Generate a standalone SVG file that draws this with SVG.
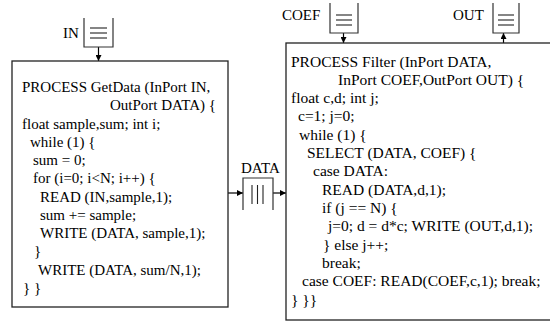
<svg xmlns="http://www.w3.org/2000/svg" width="550" height="324" viewBox="0 0 550 324">
<defs>
<marker id="ah" viewBox="0 0 10 10" refX="10" refY="5" markerWidth="6" markerHeight="6" markerUnits="userSpaceOnUse" orient="auto">
<path d="M0,0 L10,5 L0,10 z" fill="#000"/>
</marker>
</defs>
<style>
.box{fill:#fff;stroke:#222;stroke-width:1.3}
.ch{fill:none;stroke:#333;stroke-width:1.2}
.bar{stroke:#222;stroke-width:1.1}
.con{stroke:#000;stroke-width:1.2;fill:none}
</style>
<rect width="550" height="324" fill="#fff"/>
<g font-family="'Liberation Serif', 'Times New Roman', serif" font-size="15" fill="#000">
<g id="connectors">
<line class="con" x1="98.5" y1="47" x2="98.5" y2="61" marker-end="url(#ah)"/>
<line class="con" x1="228" y1="193" x2="243" y2="193" marker-end="url(#ah)"/>
<line class="con" x1="273" y1="193" x2="286" y2="193" marker-end="url(#ah)"/>
<line class="con" x1="343.5" y1="33" x2="343.5" y2="43" marker-end="url(#ah)"/>
<line class="con" x1="503.5" y1="43" x2="503.5" y2="33" marker-end="url(#ah)"/>
</g>
<g id="chan-in">
<text x="63" y="38">IN</text>
<path class="ch" d="M84,18 V47 H113 V18"/>
<line class="bar" x1="90" y1="28" x2="107" y2="28"/>
<line class="bar" x1="90" y1="33" x2="107" y2="33"/>
<line class="bar" x1="90" y1="38" x2="107" y2="38"/>
</g>
<g id="chan-coef">
<text x="282" y="20">COEF</text>
<path class="ch" d="M330,3 V33 H358 V3"/>
<line class="bar" x1="336" y1="15" x2="352" y2="15"/>
<line class="bar" x1="336" y1="20" x2="352" y2="20"/>
<line class="bar" x1="336" y1="25" x2="352" y2="25"/>
</g>
<g id="chan-out">
<text x="453" y="20">OUT</text>
<path class="ch" d="M493,3 V33 H519 V3"/>
<line class="bar" x1="498" y1="15" x2="514" y2="15"/>
<line class="bar" x1="498" y1="20" x2="514" y2="20"/>
<line class="bar" x1="498" y1="25" x2="514" y2="25"/>
</g>
<g id="chan-data">
<text x="241" y="173">DATA</text>
<path class="ch" d="M243,210 V178 H273 V210"/>
<line class="bar" x1="252" y1="185" x2="252" y2="204"/>
<line class="bar" x1="257.5" y1="185" x2="257.5" y2="204"/>
<line class="bar" x1="263" y1="185" x2="263" y2="204"/>
</g>
<g id="getdata">
<rect class="box" x="12" y="61" width="216" height="246"/>
<text x="22" y="92">PROCESS GetData (InPort IN,</text>
<text x="110" y="110">OutPort DATA) {</text>
<text x="22" y="129">float sample,sum; int i;</text>
<text x="30" y="147">while (1) {</text>
<text x="33" y="165">sum = 0;</text>
<text x="33" y="183">for (i=0; i&lt;N; i++) {</text>
<text x="40" y="202">READ (IN,sample,1);</text>
<text x="40" y="220">sum += sample;</text>
<text x="40" y="238">WRITE (DATA, sample,1);</text>
<text x="34" y="256">}</text>
<text x="38" y="275">WRITE (DATA, sum/N,1);</text>
<text x="23" y="293">} }</text>
</g>
<g id="filter" font-size="15.5">
<rect class="box" x="286" y="43" width="266" height="277"/>
<text x="291" y="67">PROCESS Filter (InPort DATA,</text>
<text x="338" y="85">InPort COEF,OutPort OUT) {</text>
<text x="291" y="103">float c,d; int j;</text>
<text x="298" y="121">c=1; j=0;</text>
<text x="299" y="140">while (1) {</text>
<text x="307" y="158">SELECT (DATA, COEF) {</text>
<text x="313" y="176">case DATA:</text>
<text x="322" y="195">READ (DATA,d,1);</text>
<text x="322" y="213">if (j == N) {</text>
<text x="328" y="231">j=0; d = d*c; WRITE (OUT,d,1);</text>
<text x="323" y="250">} else j++;</text>
<text x="322" y="268">break;</text>
<text x="302" y="286">case COEF: READ(COEF,c,1); break;</text>
<text x="291" y="305">} }}</text>
</g>
</g>
</svg>
